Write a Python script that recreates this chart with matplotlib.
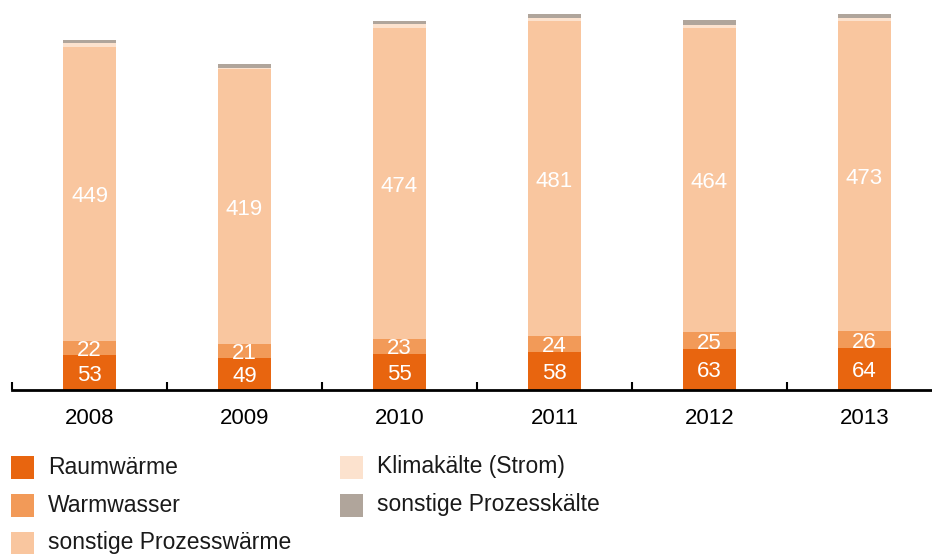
import matplotlib.pyplot as plt
from matplotlib.patches import Rectangle

plt.rcParams['font.family'] = ['Liberation Sans', 'DejaVu Sans']

years = ['2008', '2009', '2010', '2011', '2012', '2013']
raumwaerme = [53, 49, 55, 58, 63, 64]
warmwasser = [22, 21, 23, 24, 25, 26]
prozesswaerme = [449, 419, 474, 481, 464, 473]
klimakaelte = [5, 3, 6, 5, 5, 5]
prozesskaelte = [5, 6, 5, 5, 7, 5]

labels = ['Raumwärme', 'Warmwasser', 'sonstige Prozesswärme',
          'Klimakälte (Strom)', 'sonstige Prozesskälte']
colors = ['#E8650F', '#F29A58', '#F9C69F', '#FCE2CE', '#B0A59B']
series = [raumwaerme, warmwasser, prozesswaerme, klimakaelte, prozesskaelte]

W, H = 932, 554
fig = plt.figure(figsize=(W / 100, H / 100), dpi=100)
base_y = 390
ax = fig.add_axes([12 / W, (H - base_y) / H, (W - 12) / W, base_y / H])

x = range(len(years))
bottom = [0] * len(years)
for vals, col in zip(series, colors):
    ax.bar(x, vals, width=0.34, bottom=bottom, color=col, linewidth=0)
    bottom = [b + v for b, v in zip(bottom, vals)]

# value labels in the first three segments
bottom = [0] * len(years)
for vals in series[:3]:
    for i, v in enumerate(vals):
        ax.text(i, bottom[i] + v / 2, str(v), ha='center', va='center_baseline',
                color='white', fontsize=16)
    bottom = [b + v for b, v in zip(bottom, vals)]

for s in ['top', 'right', 'left']:
    ax.spines[s].set_visible(False)
ax.spines['bottom'].set_linewidth(2)
ax.set_yticks([])
ax.set_xticks(list(x))
ax.set_xticklabels(years, fontsize=16)
ax.tick_params(axis='x', which='major', length=0, pad=13)
ax.set_xticks([i - 0.5 for i in range(len(years) + 1)], minor=True)
ax.tick_params(axis='x', which='minor', direction='in', length=5.5, width=1.5)
ax.set_xlim(-0.5, -0.5 + (W - 12) / 155)
ax.set_ylim(0, 595)

# legend, drawn by hand in pixel positions
pos = [(11, 467), (11, 505), (11, 543), (340, 467), (340, 505)]
for (px, py), lab, col in zip(pos, labels, colors):
    fig.patches.append(Rectangle((px / W, (H - py - 11.5) / H), 23 / W, 23 / H,
                                 transform=fig.transFigure, color=col, lw=0))
    fig.text((px + 37) / W, (H - py) / H, lab, fontsize=16.5, va='center',
             ha='left', color='#1a1a1a')

fig.savefig('out.png', dpi=100)
